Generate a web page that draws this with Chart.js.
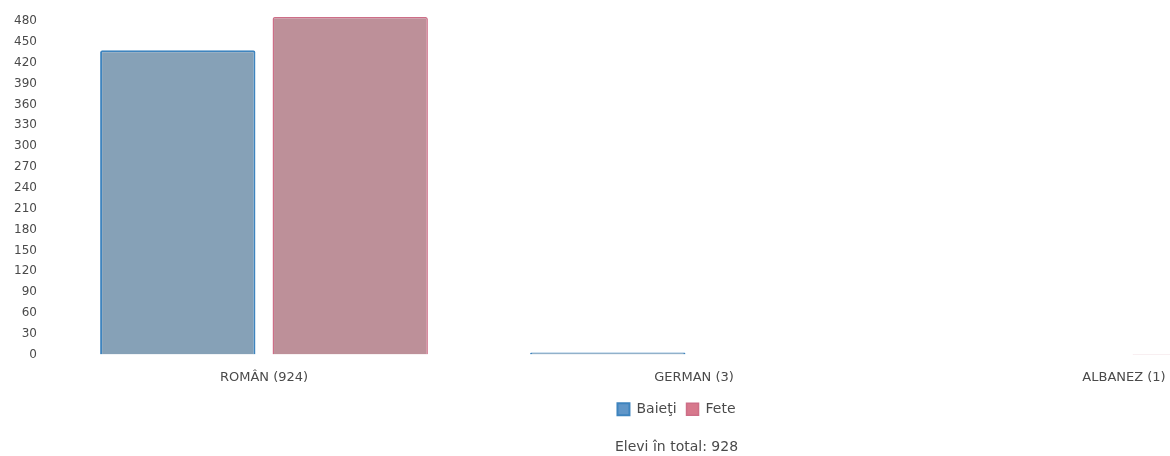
<!DOCTYPE html>
<html>
<head>
<meta charset="utf-8">
<script src="https://cdn.jsdelivr.net/npm/chart.js@4/dist/chart.umd.min.js"></script>
<style>
html,body{margin:0;padding:0;background:#fff;overflow:hidden;width:1170px;height:456px;}
#wrap{position:absolute;left:0;top:0;width:1352px;height:456px;}
</style>
</head>
<body>
<div id="wrap"><canvas id="c" width="1352" height="456"></canvas></div>
<script>
const categories = ['ROMÂN (924)', 'GERMAN (3)', 'ALBANEZ (1)'];
const baieti = [438, 3, 0];
const fete = [486, 0, 1];
const seriesNames = ['Baieţi', 'Fete'];
const yTicks = [0, 30, 60, 90, 120, 150, 180, 210, 240, 270, 300, 330, 360, 390, 420, 450, 480];
const yMax = 486;
const totalText = 'Elevi în total: 928';

const FONT = 'DejaVu Sans';
const TEXT = '#4a4a4a';
const legendFill = ['rgb(96,150,200)', 'rgb(215,120,140)'];

new Chart(document.getElementById('c'), {
  type: 'bar',
  data: {
    labels: categories,
    datasets: [
      {label: seriesNames[0], data: baieti, backgroundColor: 'rgb(134,161,183)', borderColor: 'rgb(62,132,190)', borderWidth: 2, borderRadius: 2},
      {label: seriesNames[1], data: fete, backgroundColor: 'rgb(189,144,153)', borderColor: 'rgb(205,110,135)', borderWidth: 1.5, borderRadius: 2}
    ]
  },
  options: {
    responsive: false,
    animation: false,
    layout: {padding: {left: 14, right: 13, top: 17, bottom: 0}},
    datasets: {bar: {categoryPercentage: 0.802, barPercentage: 0.901}},
    scales: {
      x: {
        grid: {display: false}, border: {display: false},
        ticks: {color: TEXT, font: {family: FONT, size: 13}, padding: 7}
      },
      y: {
        min: 0, max: yMax,
        grid: {display: false}, border: {display: false},
        ticks: {color: TEXT, font: {family: FONT, size: 12}, padding: 4},
        afterBuildTicks: (s) => { s.ticks = yTicks.map(v => ({value: v})); },
        afterFit: (s) => { s.width = 35; }
      }
    },
    plugins: {
      legend: {
        position: 'bottom',
        labels: {
          boxWidth: 12, boxHeight: 12, color: TEXT, font: {family: FONT, size: 14}, padding: 10,
          generateLabels: (chart) => Chart.defaults.plugins.legend.labels.generateLabels(chart).map((l, i) => Object.assign(l, {fillStyle: legendFill[i]}))
        }
      },
      title: {display: true, position: 'bottom', text: totalText, color: TEXT, font: {family: FONT, size: 14, weight: 'normal'}, padding: {top: 13, bottom: 0}},
      tooltip: {enabled: false}
    }
  }
});
</script>
</body>
</html>
